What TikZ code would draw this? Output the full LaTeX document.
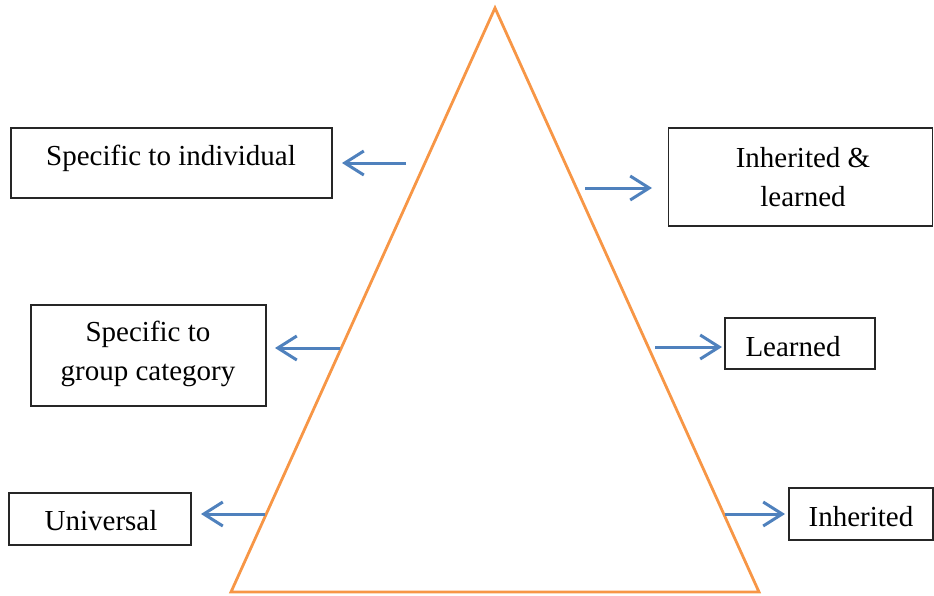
\documentclass[tikz,border=0pt]{standalone}
\usepackage{fontspec}
\setmainfont{Liberation Serif}
\usetikzlibrary{arrows.meta}
\definecolor{triorange}{HTML}{F79646}
\definecolor{arrblue}{HTML}{4F81BD}
\tikzset{
  box/.style={draw=black!85, line width=1.3pt, inner sep=0pt},
  txt/.style={inner sep=0pt, align=center, font=\fontsize{29}{39}\selectfont},
  conn/.style={draw=arrblue, line width=3pt, -{Straight Barb[length=19pt,width=24pt,line width=3pt]}},
}
\begin{document}
\begin{tikzpicture}[x=1pt,y=-1pt]
\useasboundingbox (0,0) rectangle (934,595);
% triangle
\draw[triorange, line width=2.8pt, line join=miter] (495,8) -- (231,592) -- (759,592) -- cycle;
% boxes
\node[box, minimum width=321, minimum height=70] (b1) at (171.5,163) {};
\node[txt] (t1) at (171,158) {Specific to individual};
\node[box, minimum width=264, minimum height=98] (b2) at (800.5,177) {};
\node[txt] (t2) at (803,177) {Inherited \&\\learned};
\node[box, minimum width=235, minimum height=101] (b3) at (148.5,355.5) {};
\node[txt] (t3) at (148,354) {Specific to\\group category};
\node[box, minimum width=150, minimum height=51] (b4) at (800,343.5) {};
\node[txt] (t4) at (793,347) {Learned};
\node[box, minimum width=182, minimum height=52] (b5) at (100,519) {};
\node[txt] (t5) at (101,521) {Universal};
\node[box, minimum width=144, minimum height=52] (b6) at (861,514) {};
\node[txt] (t6) at (861,517) {Inherited};
% arrow coordinates
\coordinate (s1) at (406,163); \coordinate (e1) at (342,163);
\coordinate (s2) at (585,188); \coordinate (e2) at (652,188);
\coordinate (s3) at (340,348); \coordinate (e3) at (275,348);
\coordinate (s4) at (655,347); \coordinate (e4) at (722,347);
\coordinate (s5) at (265,514); \coordinate (e5) at (201,514);
\coordinate (s6) at (725,514); \coordinate (e6) at (785,514);
\draw[conn] (s1) -- (e1);
\draw[conn] (s2) -- (e2);
\draw[conn] (s3) -- (e3);
\draw[conn] (s4) -- (e4);
\draw[conn] (s5) -- (e5);
\draw[conn] (s6) -- (e6);
\end{tikzpicture}
\end{document}
